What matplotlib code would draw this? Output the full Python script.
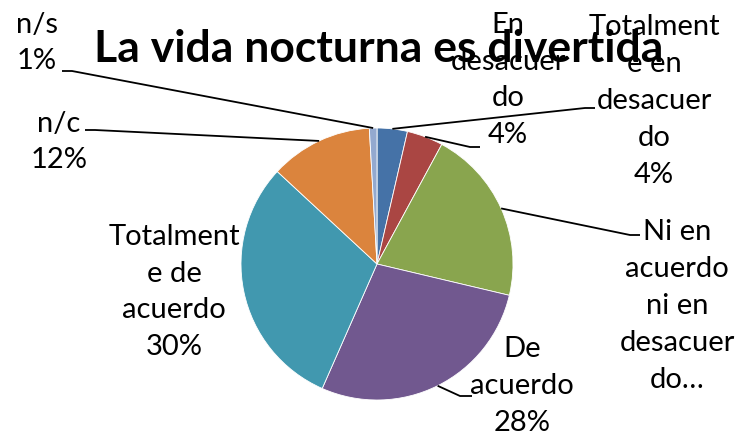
import matplotlib
matplotlib.use("Agg")
import matplotlib.pyplot as plt
import numpy as np

categories = ["Totalmente en desacuerdo", "En desacuerdo",
              "Ni en acuerdo ni en desacuerdo", "De acuerdo",
              "Totalmente de acuerdo", "n/c", "n/s"]
values = [3.6, 4.3, 20.8, 27.9, 30.3, 12.2, 0.9]
label_texts = ["Totalment\ne en\ndesacuer\ndo\n4%",
               "En\ndesacuer\ndo\n4%",
               "Ni en\nacuerdo\nni en\ndesacuer\ndo\u2026",
               "De\nacuerdo\n28%",
               "Totalment\ne de\nacuerdo\n30%",
               "n/c\n12%",
               "n/s\n1%"]
colors = ["#4572A7", "#AA4643", "#89A54E", "#71588F", "#4198AF", "#DB843D", "#93A9CF"]
title = "La vida nocturna es divertida"

W, H = 755, 441
fig = plt.figure(figsize=(W / 100, H / 100), dpi=100)
ax = fig.add_axes([0, 0, 1, 1])

cx, cy, R = 377, H - 264, 136
wedges, _ = ax.pie(values, colors=colors, startangle=90, counterclock=False,
                   center=(cx, cy), radius=R, frame=True,
                   wedgeprops=dict(edgecolor="white", linewidth=0.6))
ax.set_xlim(0, W)
ax.set_ylim(0, H)
ax.set_aspect("auto")
ax.axis("off")

FONT = "Lato"
FS = 21
LS = 1.52

# label block centers (x, y from top) and leader elbow/end points (from top)
label_pos = [(654, 101), (508, 80), (677, 306), (522, 386), (174, 292), (59, 142), (37, 43)]
leaders = [((585, 108), (595, 108)),
           ((470, 147), (480, 147)),
           ((630, 235), (640, 235)),
           ((460, 396), (472, 396)),
           None,
           ((95, 130), (85, 130)),
           ((72, 71), (62, 71))]

for w, txt, (lx, ly), ld in zip(wedges, label_texts, label_pos, leaders):
    ax.text(lx, H - ly, txt, ha="center", va="center", fontsize=FS,
            family=FONT, linespacing=LS, color="#000000", multialignment="center")
    if ld is not None:
        mid = np.deg2rad((w.theta1 + w.theta2) / 2)
        ex, ey = cx + R * np.cos(mid), cy + R * np.sin(mid)
        (x1, y1), (x2, y2) = ld
        ax.plot([ex, x1, x2], [ey, H - y1, H - y2], color="black", lw=1.3,
                solid_capstyle="butt", zorder=3)

ax.text(379, H - 62, title, ha="center", va="baseline", fontsize=32,
        family=FONT, fontweight="bold", color="black", zorder=5)

fig.savefig("out.png", dpi=100, facecolor="white")
